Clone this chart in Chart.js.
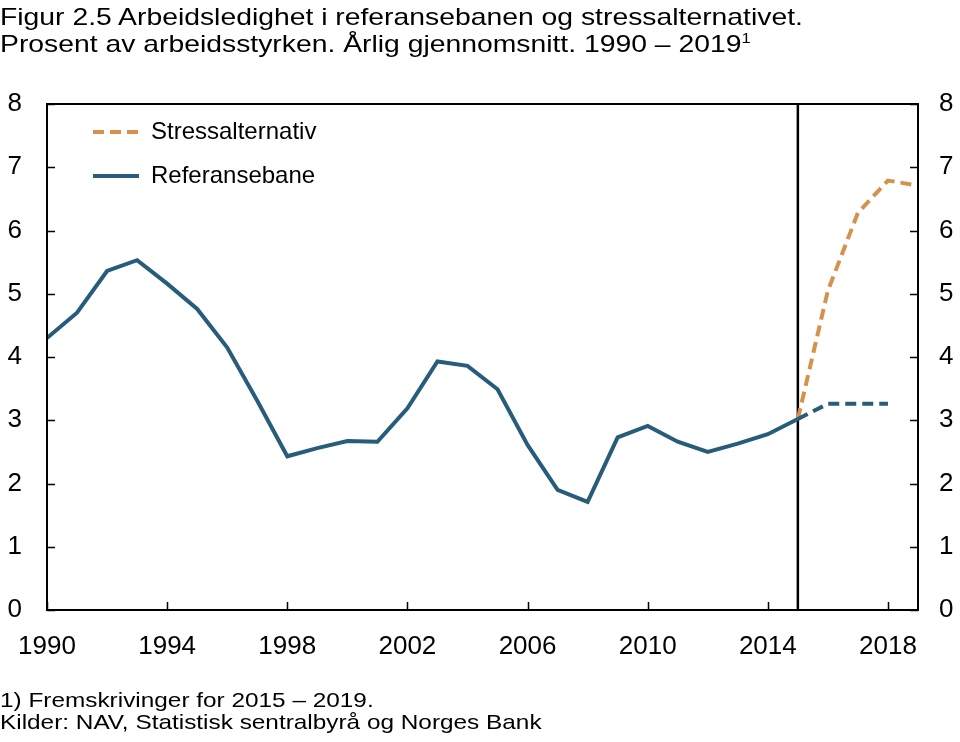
<!DOCTYPE html>
<html>
<head>
<meta charset="utf-8">
<script src="https://cdn.jsdelivr.net/npm/chart.js@4.4.1/dist/chart.umd.min.js"></script>
<style>
  body { margin: 0; background: #fff; font-family: "Liberation Sans", Arial, sans-serif; color: #000; }
  #wrap { position: relative; width: 960px; height: 742px; overflow: hidden; }
  #chart { position: absolute; left: 0; top: 0; }
  .title { position: absolute; left: 0; top: 3px; font-size: 24px; line-height: 27px; white-space: nowrap;
           transform: scaleX(1.18); transform-origin: 0 0; }
  .title sup { font-size: 14px; vertical-align: 9px; line-height: 0; }
  .notes { position: absolute; left: 0; top: 689px; font-size: 21px; line-height: 21.5px; white-space: nowrap;
           transform: scaleX(1.16); transform-origin: 0 0; }
</style>
</head>
<body>
<div id="wrap">
  <canvas id="chart" width="960" height="742"></canvas>
  <div class="title">Figur 2.5 Arbeidsledighet i referansebanen og stressalternativet.<br>Prosent av arbeidsstyrken. Årlig gjennomsnitt. 1990 – 2019<sup>1</sup></div>
  <div class="notes">1) Fremskrivinger for 2015 – 2019.<br>Kilder: NAV, Statistisk sentralbyrå og Norges Bank</div>
</div>
<script>
// historiske tall
let histYears = [1990, 1991, 1992, 1993, 1994, 1995, 1996, 1997, 1998, 1999, 2000, 2001, 2002,
                 2003, 2004, 2005, 2006, 2007, 2008, 2009, 2010, 2011, 2012, 2013, 2014, 2015];
let refHist = [4.30, 4.70, 5.36, 5.53, 5.16, 4.76, 4.15, 3.31, 2.43, 2.56, 2.67, 2.66, 3.19,
               3.93, 3.86, 3.49, 2.61, 1.90, 1.71, 2.73, 2.91, 2.66, 2.50, 2.63, 2.78, 3.02];

// fremskrivinger
let refProjYears = [2015, 2016, 2017, 2018];
let refProj = [3.02, 3.26, 3.26, 3.26];
let stressYears = [2015, 2016, 2017, 2018, 2019];
let stress = [3.02, 5.05, 6.28, 6.79, 6.71];

let xTicks = [1990, 1994, 1998, 2002, 2006, 2010, 2014, 2018];
let yTicks = [0, 1, 2, 3, 4, 5, 6, 7, 8];
let splitYear = 2015;

const BLUE = '#275c7b';
const ORANGE = '#d4924c';
const FONT = '"Liberation Sans", Arial, sans-serif';

function pts(xs, ys) {
    return xs.map((x, i) => ({ x: x, y: ys[i] }));
}

// tegner ramme, innovervendte tickmerker og legende
const frame = {
    id: 'frame',
    afterDatasetsDraw(chart) {
        const ctx = chart.ctx;
        const a = chart.chartArea;
        const sx = chart.scales.x, sy = chart.scales.y;
        ctx.save();
        ctx.strokeStyle = '#000';
        ctx.lineWidth = 1.5;
        ctx.beginPath();
        xTicks.forEach(t => {
            const px = Math.round(sx.getPixelForValue(t)) + 0.5;
            ctx.moveTo(px, a.bottom);
            ctx.lineTo(px, a.bottom - 8);
        });
        yTicks.forEach(t => {
            const py = Math.round(sy.getPixelForValue(t)) + 0.5;
            ctx.moveTo(a.left, py);
            ctx.lineTo(a.left + 8, py);
            ctx.moveTo(a.right, py);
            ctx.lineTo(a.right - 8, py);
        });
        ctx.stroke();
        ctx.lineWidth = 2;
        ctx.strokeRect(a.left, a.top, a.right - a.left, a.bottom - a.top);

        // legende
        const items = [
            { ds: chart.data.datasets[2], y: a.top + 28 },
            { ds: chart.data.datasets[0], y: a.top + 72 }
        ];
        ctx.font = '24px ' + FONT;
        ctx.textBaseline = 'middle';
        ctx.fillStyle = '#000';
        items.forEach(it => {
            ctx.save();
            ctx.strokeStyle = it.ds.borderColor;
            ctx.lineWidth = it.ds.borderWidth;
            ctx.setLineDash(it.ds.borderDash || []);
            ctx.beginPath();
            ctx.moveTo(a.left + 46, it.y);
            ctx.lineTo(a.left + 92, it.y);
            ctx.stroke();
            ctx.restore();
            ctx.fillText(it.ds.label, a.left + 104, it.y);
        });
        ctx.restore();
    }
};

const chart = new Chart(document.getElementById('chart'), {
    type: 'line',
    data: {
        datasets: [
            {
                label: 'Referansebane',
                data: pts(histYears, refHist),
                borderColor: BLUE,
                borderWidth: 4,
                pointRadius: 0,
                tension: 0
            },
            {
                label: 'Referansebane (fremskriving)',
                data: pts(refProjYears, refProj),
                borderColor: BLUE,
                borderWidth: 4,
                borderDash: [11, 6],
                pointRadius: 0,
                tension: 0
            },
            {
                label: 'Stressalternativ',
                data: pts(stressYears, stress),
                borderColor: ORANGE,
                borderWidth: 4,
                borderDash: [11, 6],
                pointRadius: 0,
                tension: 0
            },
            {
                label: 'skille',
                data: [{ x: splitYear, y: yTicks[0] }, { x: splitYear, y: yTicks[yTicks.length - 1] }],
                borderColor: '#000',
                borderWidth: 2.5,
                pointRadius: 0
            }
        ]
    },
    options: {
        responsive: false,
        animation: false,
        layout: { padding: { left: 0, right: 0, top: 104, bottom: 70 } },
        plugins: { legend: { display: false }, tooltip: { enabled: false } },
        scales: {
            x: {
                type: 'linear',
                min: 1990,
                max: 2019,
                afterBuildTicks: s => { s.ticks = xTicks.map(v => ({ value: v })); },
                afterFit: s => { s.height = 62; s.paddingLeft = 0; s.paddingRight = 0; },
                grid: { display: false, drawTicks: false },
                border: { display: false },
                ticks: {
                    color: '#000', font: { family: FONT, size: 26 }, padding: 21, maxRotation: 0, autoSkip: false,
                    callback: v => String(v)
                }
            },
            y: {
                min: 0,
                max: 8,
                position: 'left',
                afterBuildTicks: s => { s.ticks = yTicks.map(v => ({ value: v })); },
                afterFit: s => { s.width = 47; },
                grid: { display: false, drawTicks: false },
                border: { display: false },
                ticks: { color: '#000', font: { family: FONT, size: 26 }, padding: 25 }
            },
            y2: {
                min: 0,
                max: 8,
                position: 'right',
                afterBuildTicks: s => { s.ticks = yTicks.map(v => ({ value: v })); },
                afterFit: s => { s.width = 42; },
                grid: { display: false, drawTicks: false },
                border: { display: false },
                ticks: { color: '#000', font: { family: FONT, size: 26 }, padding: 21 }
            }
        }
    },
    plugins: [frame]
});
</script>
</body>
</html>
